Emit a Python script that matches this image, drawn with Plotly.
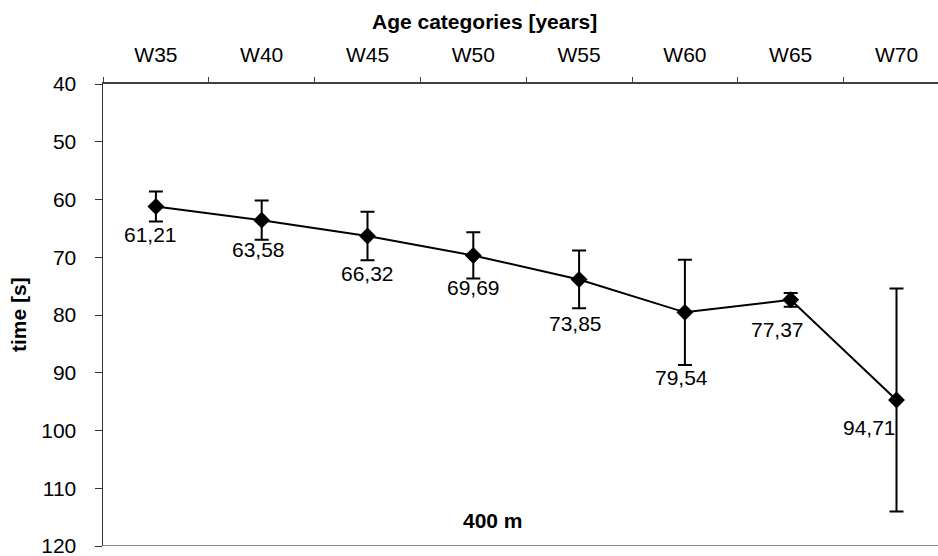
import plotly.graph_objects as go

# ---- data ----
categories = ["W35", "W40", "W45", "W50", "W55", "W60", "W65", "W70"]
times = [61.21, 63.58, 66.32, 69.69, 73.85, 79.54, 77.37, 94.71]
errors = [2.6, 3.4, 4.2, 4.0, 5.0, 9.1, 1.2, 19.3]
y_ticks = [40, 50, 60, 70, 80, 90, 100, 110, 120]
value_labels = [f"{v:.2f}".replace(".", ",") for v in times]

# label placement offsets in pixels (relative to the point)
label_dx = [-5, -3, 0, 0, -4, -3, -13, -27]
label_dy = [28, 29, 37, 32, 44, 65, 30, 28]

FONT = "Liberation Sans, Arial, sans-serif"
FS = 21
W, H = 938, 556
ML, MR, MT, MB = 103, 0, 84, 10
PW, PH = W - ML - MR, H - MT - MB
CAT_W = 105.8

fig = go.Figure(
    go.Scatter(
        x=categories,
        y=times,
        mode="lines+markers",
        line=dict(color="black", width=2),
        marker=dict(symbol="diamond", size=13, color="black"),
        error_y=dict(type="data", array=errors, color="black", thickness=2, width=7),
        hoverinfo="skip",
    )
)

annotations = []
for c, v, t, dx, dy in zip(categories, times, value_labels, label_dx, label_dy):
    annotations.append(dict(
        x=c, y=v, xref="x", yref="y", text=t, showarrow=False,
        xshift=dx, yshift=-dy, font=dict(size=FS, color="black", family=FONT),
        xanchor="center", yanchor="middle",
    ))

annotations += [
    dict(text="<b>Age categories [years]</b>", xref="paper", yref="paper",
         x=(484 - ML) / PW, y=1 + (MT - 21) / PH, showarrow=False,
         xanchor="center", yanchor="middle", font=dict(size=FS, color="black", family=FONT)),
    dict(text="<b>time [s]</b>", xref="paper", yref="paper",
         x=(18 - ML) / PW, y=0.5, showarrow=False, textangle=-90,
         xanchor="center", yanchor="middle", font=dict(size=FS, color="black", family=FONT)),
    dict(text="<b>400 m</b>", xref="paper", yref="paper",
         x=(493 - ML) / PW, y=(H - MB - 520) / PH, showarrow=False,
         xanchor="center", yanchor="middle", font=dict(size=FS, color="black", family=FONT)),
]

fig.update_layout(
    width=W, height=H,
    margin=dict(l=ML, r=MR, t=MT, b=MB, pad=0, autoexpand=False),
    paper_bgcolor="white", plot_bgcolor="white",
    showlegend=False,
    font=dict(family=FONT, size=FS, color="black"),
    annotations=annotations,
    shapes=[dict(type="line", xref="paper", yref="y", x0=0, x1=1, y0=120, y1=120,
                 line=dict(color="#8c8c8c", width=2))],
    xaxis=dict(
        type="category", side="top", range=[-0.5, -0.5 + PW / CAT_W],
        tickson="boundaries", ticks="outside", ticklen=5, tickwidth=1,
        tickcolor="#404040", showline=True, linecolor="#404040", linewidth=2,
        showgrid=False, zeroline=False, ticklabelstandoff=12,
        automargin=False, ticklabeloverflow="allow",
        tickfont=dict(size=FS, color="black", family=FONT),
    ),
    yaxis=dict(
        range=[120, 40], tickmode="array", tickvals=y_ticks,
        ticks="outside", ticklen=7, tickwidth=1, tickcolor="#333333",
        showline=True, linecolor="#333333", linewidth=1.5,
        showgrid=False, zeroline=False, ticklabelstandoff=14,
        automargin=False, ticklabeloverflow="allow",
        tickfont=dict(size=FS, color="black", family=FONT),
    ),
)

fig.write_html(
    "out.html",
    config={"displayModeBar": False, "staticPlot": True},
    post_script="document.body.style.margin='0';document.body.style.overflow='hidden';",
)
